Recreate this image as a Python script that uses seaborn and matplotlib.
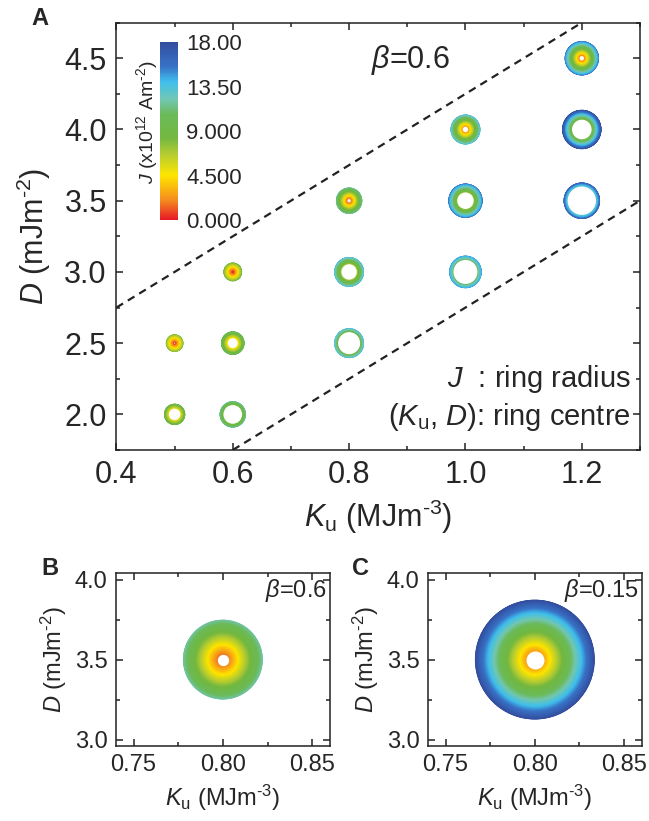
import numpy as np
import pandas as pd
import matplotlib
matplotlib.use('Agg')
import matplotlib.pyplot as plt
from matplotlib.colors import LinearSegmentedColormap, Normalize
from matplotlib.cm import ScalarMappable
from matplotlib.ticker import MultipleLocator
import seaborn as sns

# ---------------- data ----------------
# panel A: ring centres (Ku, D) and current range J (x1e12 A m^-2)
ring_ku = [1.2, 1.2, 1.2, 1.0, 1.0, 1.0, 0.8, 0.8, 0.8, 0.6, 0.6, 0.6, 0.5, 0.5]
ring_d = [4.5, 4.0, 3.5, 4.0, 3.5, 3.0, 3.5, 3.0, 2.5, 3.0, 2.5, 2.0, 2.5, 2.0]
ring_jmin = [2.0, 8.9, 12.9, 2.5, 7.5, 10.9, 1.5, 7.0, 10.0, 0.0, 4.5, 8.5, 0.5, 5.2]
ring_jmax = [15.6, 17.9, 16.6, 13.6, 15.6, 14.8, 12.0, 13.6, 13.6, 8.5, 10.7, 12.0, 8.0, 9.7]

# phase boundaries (dashed)
upper_ku = [0.4, 1.2]
upper_d = [2.75, 4.75]
lower_ku = [0.6, 1.3]
lower_d = [1.75, 3.5]

# panels B and C: single ring at (0.8, 3.5)
zoom_ku = 0.8
zoom_d = 3.5
b_jmin, b_jmax = 1.7, 12.0
c_jmin, c_jmax = 2.7, 18.0

cbar_ticks = [0, 4.5, 9, 13.5, 18]
cbar_labels = ['0.000', '4.500', '9.000', '13.50', '18.00']

# colour scale of the figure (red -> yellow -> green -> cyan -> blue)
cmap = LinearSegmentedColormap.from_list('ring', [
    (0.0 / 18, (0.90, 0.10, 0.15)),
    (2.0 / 18, (0.96, 0.55, 0.12)),
    (4.5 / 18, (1.00, 0.90, 0.00)),
    (6.7 / 18, (0.70, 0.80, 0.20)),
    (8.3 / 18, (0.45, 0.72, 0.25)),
    (10.7 / 18, (0.42, 0.73, 0.35)),
    (12.2 / 18, (0.45, 0.78, 0.70)),
    (14.0 / 18, (0.25, 0.75, 0.93)),
    (15.5 / 18, (0.22, 0.45, 0.78)),
    (18.0 / 18, (0.20, 0.30, 0.62)),
])
JMAX = 18.0

sns.set_style('ticks')
plt.rcParams['font.family'] = ['Liberation Sans', 'DejaVu Sans']
plt.rcParams['mathtext.fontset'] = 'custom'
plt.rcParams['mathtext.rm'] = 'Liberation Sans'
plt.rcParams['mathtext.it'] = 'Liberation Sans:italic'
plt.rcParams['mathtext.bf'] = 'Liberation Sans:bold'
plt.rcParams['axes.linewidth'] = 1.1
plt.rcParams['axes.edgecolor'] = '#222222'

DPI = 100

KU_LABEL = r'$K_\mathrm{u}$ (MJm$^{\text{-}3}$)'
D_LABEL = r'$D$ (mJm$^{\text{-}2}$)'


def ringFrame(kus, ds, jmins, jmaxs, step=0.05):
    rows = []
    for ku, d, j0, j1 in zip(kus, ds, jmins, jmaxs):
        for j in np.arange(j1, j0, -step):
            rows.append((ku, d, j))
    df = pd.DataFrame(rows, columns=['ku', 'd', 'J'])
    df['area'] = df['J'] ** 2
    return df.sort_values('J', ascending=False, kind='stable')


def drawRings(ax, kus, ds, jmins, jmaxs, px_per_j):
    # marker area in pt^2 for J = JMAX
    smax = (2 * px_per_j * JMAX * 72.0 / DPI) ** 2
    df = ringFrame(kus, ds, jmins, jmaxs)
    sns.scatterplot(data=df, x='ku', y='d', hue='J', palette=cmap,
                    hue_norm=(0, JMAX), size='area', size_norm=(0, JMAX ** 2),
                    sizes=(0, smax), linewidth=0, legend=False, ax=ax)
    holes = pd.DataFrame({'ku': kus, 'd': ds, 'J': jmins})
    holes = holes[holes['J'] > 0]
    hs = (2 * px_per_j * holes['J'] * 72.0 / DPI) ** 2
    ax.scatter(holes['ku'], holes['d'], s=hs, color='white', linewidth=0, zorder=3)


def styleAxes(ax, fs, xmaj, xmin, ymaj, ymin, pad):
    ax.xaxis.set_major_locator(MultipleLocator(xmaj))
    ax.xaxis.set_minor_locator(MultipleLocator(xmin))
    ax.yaxis.set_major_locator(MultipleLocator(ymaj))
    ax.yaxis.set_minor_locator(MultipleLocator(ymin))
    ax.tick_params(which='both', direction='in', top=True, right=True,
                   width=1.1, color='#222222', labelsize=fs, pad=pad)
    ax.tick_params(which='major', length=5)
    ax.tick_params(which='minor', length=3)


fig = plt.figure(figsize=(6.49, 8.21), dpi=DPI)

# ---------------- panel A ----------------
axA = fig.add_axes([0.1794, 0.4519, 0.8067, 0.5205])
drawRings(axA, ring_ku, ring_d, ring_jmin, ring_jmax, 1.1)
sns.lineplot(x=upper_ku, y=upper_d, ax=axA, color='#222222', lw=1.6,
             linestyle=(0, (3.5, 2.5)))
sns.lineplot(x=lower_ku, y=lower_d, ax=axA, color='#222222', lw=1.6,
             linestyle=(0, (3.5, 2.5)))
axA.set_xlim(0.4, 1.3)
axA.set_ylim(1.75, 4.75)
styleAxes(axA, 22, 0.2, 0.1, 0.5, 0.25, 7)
axA.set_xticks([0.4, 0.6, 0.8, 1.0, 1.2])
axA.set_xlabel(KU_LABEL, fontsize=22, labelpad=6)
axA.set_ylabel(D_LABEL, fontsize=22, labelpad=8)
axA.text(0.561, 0.913, r'$\beta$=0.6', transform=axA.transAxes,
         fontsize=22, ha='center', va='center')
axA.text(0.983, 0.165, r'$J$  : ring radius', transform=axA.transAxes,
         fontsize=21, ha='right', va='center')
axA.text(0.983, 0.078, r'($K_\mathrm{u}$, $D$): ring centre', transform=axA.transAxes,
         fontsize=21, ha='right', va='center')

# colour bar inset
cax = fig.add_axes([0.2465, 0.732, 0.0273, 0.2168])
cb = fig.colorbar(ScalarMappable(norm=Normalize(0, JMAX), cmap=cmap), cax=cax)
cb.set_ticks(cbar_ticks)
cb.set_ticklabels(cbar_labels)
cb.outline.set_visible(False)
cax.tick_params(length=0, labelsize=16, pad=6)
cax.text(-0.75, 0.55, r'$J$ (x10$^{12}$ Am$^{\text{-}2}$)', transform=cax.transAxes,
         rotation=90, fontsize=14, ha='center', va='center')

# ---------------- panels B and C ----------------
for left, j0, j1, beta, letter_x, label in [
        (0.1783, b_jmin, b_jmax, r'$\beta$=0.6', 0.077, 'B'),
        (0.659, c_jmin, c_jmax, r'$\beta$=0.15', 0.555, 'C')]:
    ax = fig.add_axes([left, 0.0914, 0.3302, 0.2104])
    drawRings(ax, [zoom_ku], [zoom_d], [j0], [j1], 3.33)
    ax.set_xlim(0.74, 0.86)
    ax.set_ylim(2.96, 4.04)
    styleAxes(ax, 17, 0.05, 0.025, 0.5, 0.25, 6)
    ax.set_xticks([0.75, 0.80, 0.85])
    ax.set_xticklabels(['0.75', '0.80', '0.85'])
    ax.set_xlabel(KU_LABEL, fontsize=17, labelpad=5)
    ax.set_ylabel(D_LABEL, fontsize=17, labelpad=4)
    ax.text(0.985, 0.90, beta, transform=ax.transAxes, fontsize=17,
            ha='right', va='center')
    fig.text(letter_x, 0.308, label, fontsize=17, fontweight='bold',
             ha='center', va='center')

fig.text(0.062, 0.978, 'A', fontsize=17, fontweight='bold', ha='center', va='center')

fig.savefig('out.png', dpi=DPI)
